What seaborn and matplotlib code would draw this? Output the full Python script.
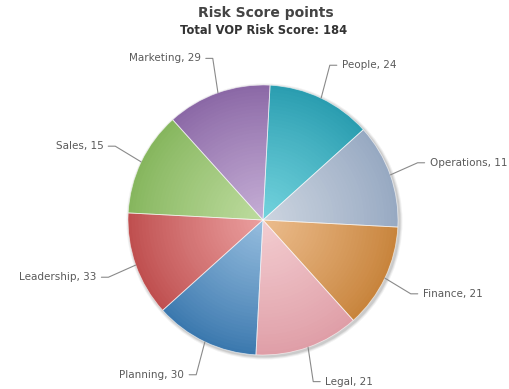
import numpy as np
import matplotlib
matplotlib.use("Agg")
import matplotlib.pyplot as plt
import matplotlib.colors as mcolors
import seaborn as sns

# ---- data (clockwise from top) ----
categories = ["People", "Operations", "Finance", "Legal", "Planning", "Leadership", "Sales", "Marketing"]
scores = [24, 11, 21, 21, 30, 33, 15, 29]
slice_share = [1, 1, 1, 1, 1, 1, 1, 1]   # slices drawn equal in the reference
title = "Risk Score points"
subtitle = "Total VOP Risk Score: 184"

edge_colors = ["#2a9db0", "#97a9c2", "#c8843c", "#df9ea7", "#3b78ae", "#bf4f4f", "#86b65e", "#8b68a6"]
center_colors = ["#74d4de", "#cdd5e0", "#ecbd8e", "#f3cdd1", "#97bedf", "#eba0a0", "#bedc9f", "#c6afd6"]

sns.set_theme(style="white")
plt.rcParams["font.family"] = ["DejaVu Sans"]

W, H, DPI = 510, 389, 100
fig = plt.figure(figsize=(W / DPI, H / DPI), dpi=DPI)
ax = fig.add_axes([0, 0, 1, 1])

cx_px, cy_px, r_px = 263, 220, 135
start = 87
px = 1 / r_px

# soft shadow
for k, a in enumerate([0.05, 0.07, 0.09]):
    circ = plt.Circle((1.5 * px, -1.5 * px), 1 + (3 - k) * px, color="#000000", alpha=a, lw=0, zorder=0)
    ax.add_patch(circ)

# radial gradient layers
n = 40
ec = np.array([mcolors.to_rgb(c) for c in edge_colors])
cc = np.array([mcolors.to_rgb(c) for c in center_colors])
for i in range(n):
    frac = 1 - i / n
    t = (1 - frac) ** 0.9
    cols = ec * (1 - t) + cc * t
    ax.pie(slice_share, radius=frac, colors=[tuple(c) for c in cols], startangle=start,
           counterclock=False, wedgeprops=dict(linewidth=0, edgecolor="none"), frame=True)

# borders
wedges, _ = ax.pie(slice_share, radius=1, colors=["none"] * 8, startangle=start, counterclock=False,
                   wedgeprops=dict(linewidth=0.6, edgecolor=(1, 1, 1, 0.6), facecolor="none"), frame=True)

# labels with connectors
for w, cat, sc in zip(wedges, categories, scores):
    ang = np.deg2rad((w.theta1 + w.theta2) / 2)
    ca, sa = np.cos(ang), np.sin(ang)
    side = 1 if ca >= 0 else -1
    L = (1.27 * ca, 1.27 * sa)
    p0 = (1.0 * ca, 1.0 * sa)
    p1 = (L[0] - side * 7 * px, L[1])
    ax.plot([p0[0], p1[0], L[0]], [p0[1], p1[1], L[1]], color="#8a8a8a", lw=0.8, zorder=5)
    ax.text(L[0] + side * 5 * px, L[1], f"{cat}, {sc}", ha="left" if side > 0 else "right",
            va="center", fontsize=7.5, color="#5a5a5a", zorder=6)

ax.set_aspect("auto")
ax.set_xlim(-cx_px / r_px, (W - cx_px) / r_px)
ax.set_ylim(-(H - cy_px) / r_px, cy_px / r_px)
ax.axis("off")

fig.text(266 / W, 1 - 13 / H, title, ha="center", va="center", fontsize=10, fontweight="bold", color="#444444")
fig.text(264 / W, 1 - 30 / H, subtitle, ha="center", va="center", fontsize=8.3, fontweight="bold", color="#333333")

fig.savefig("out.png", dpi=DPI, facecolor="white")
